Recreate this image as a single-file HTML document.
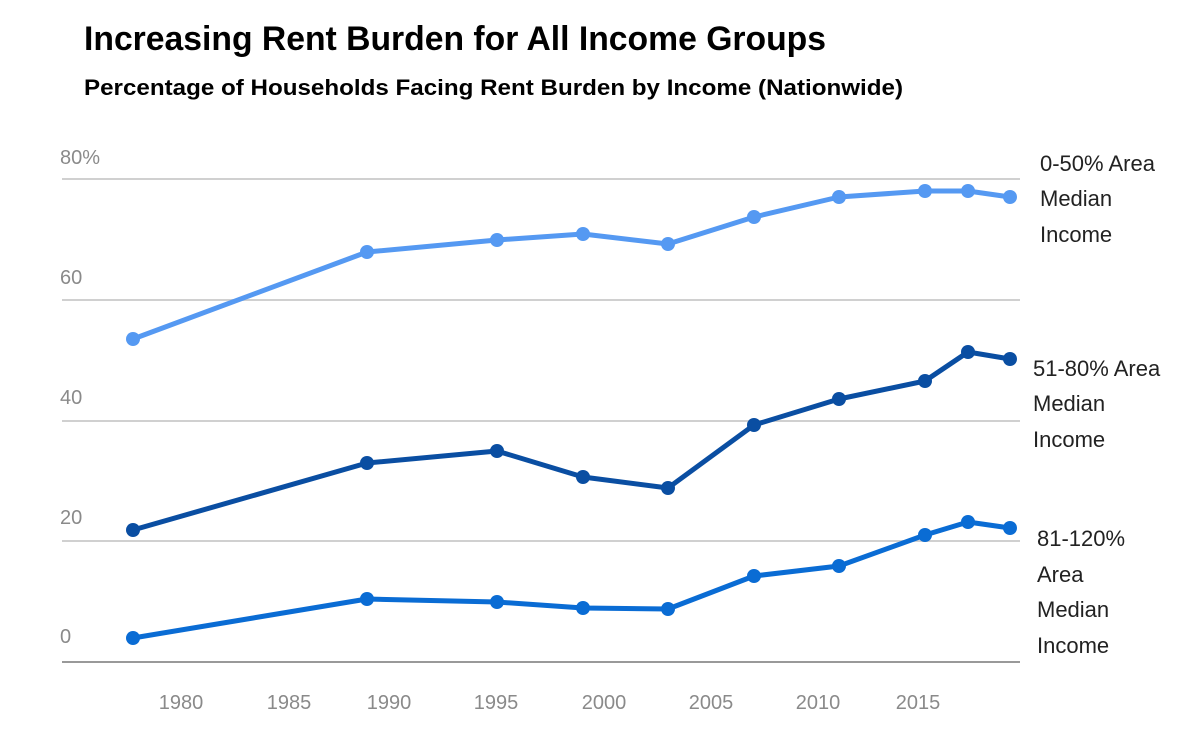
<!DOCTYPE html>
<html><head><meta charset="utf-8"><style>
html,body{margin:0;padding:0;background:#fff;}
svg{display:block;font-family:"Liberation Sans",sans-serif;}
</style></head><body>
<svg width="1192" height="741" viewBox="0 0 1192 741">
<text x="84" y="50" font-size="34" font-weight="bold" fill="#000" textLength="742" lengthAdjust="spacingAndGlyphs">Increasing Rent Burden for All Income Groups</text>
<text x="84" y="95" font-size="22" font-weight="bold" fill="#000" textLength="819" lengthAdjust="spacingAndGlyphs">Percentage of Households Facing Rent Burden by Income (Nationwide)</text>
<g stroke="#d0d0d0" stroke-width="2">
<line x1="62" y1="179" x2="1020" y2="179"/>
<line x1="62" y1="300" x2="1020" y2="300"/>
<line x1="62" y1="421" x2="1020" y2="421"/>
<line x1="62" y1="541" x2="1020" y2="541"/>
</g>
<line x1="62" y1="662" x2="1020" y2="662" stroke="#999" stroke-width="2"/>
<g font-size="20" fill="#8a8a8a">
<text x="60" y="164">80%</text>
<text x="60" y="284">60</text>
<text x="60" y="404">40</text>
<text x="60" y="524">20</text>
<text x="60" y="643">0</text>
</g>
<g font-size="20" fill="#8a8a8a" text-anchor="middle">
<text x="181" y="709">1980</text><text x="289" y="709">1985</text><text x="389" y="709">1990</text>
<text x="496" y="709">1995</text><text x="604" y="709">2000</text><text x="711" y="709">2005</text>
<text x="818" y="709">2010</text><text x="918" y="709">2015</text>
</g>
<g fill="none" stroke-width="5" stroke-linejoin="round">
<polyline stroke="#5599f2" points="133,339 367,252 497,240 583,234 668,244 754,217 839,197 925,191 968,191 1010,197"/>
<polyline stroke="#0a4ea2" points="133,530 367,463 497,451 583,477 668,488 754,425 839,399 925,381 968,352 1010,359"/>
<polyline stroke="#0a6cd4" points="133,638 367,599 497,602 583,608 668,609 754,576 839,566 925,535 968,522 1010,528"/>
</g>
<g fill="#5599f2"><circle cx="133" cy="339" r="7"/><circle cx="367" cy="252" r="7"/><circle cx="497" cy="240" r="7"/><circle cx="583" cy="234" r="7"/><circle cx="668" cy="244" r="7"/><circle cx="754" cy="217" r="7"/><circle cx="839" cy="197" r="7"/><circle cx="925" cy="191" r="7"/><circle cx="968" cy="191" r="7"/><circle cx="1010" cy="197" r="7"/></g>
<g fill="#0a4ea2"><circle cx="133" cy="530" r="7"/><circle cx="367" cy="463" r="7"/><circle cx="497" cy="451" r="7"/><circle cx="583" cy="477" r="7"/><circle cx="668" cy="488" r="7"/><circle cx="754" cy="425" r="7"/><circle cx="839" cy="399" r="7"/><circle cx="925" cy="381" r="7"/><circle cx="968" cy="352" r="7"/><circle cx="1010" cy="359" r="7"/></g>
<g fill="#0a6cd4"><circle cx="133" cy="638" r="7"/><circle cx="367" cy="599" r="7"/><circle cx="497" cy="602" r="7"/><circle cx="583" cy="608" r="7"/><circle cx="668" cy="609" r="7"/><circle cx="754" cy="576" r="7"/><circle cx="839" cy="566" r="7"/><circle cx="925" cy="535" r="7"/><circle cx="968" cy="522" r="7"/><circle cx="1010" cy="528" r="7"/></g>
<g font-size="22" fill="#222">
<text x="1040" y="171">0-50% Area</text><text x="1040" y="206">Median</text><text x="1040" y="242">Income</text>
<text x="1033" y="376">51-80% Area</text><text x="1033" y="411">Median</text><text x="1033" y="447">Income</text>
<text x="1037" y="546">81-120%</text><text x="1037" y="582">Area</text><text x="1037" y="617">Median</text><text x="1037" y="653">Income</text>
</g>
</svg>
</body></html>
